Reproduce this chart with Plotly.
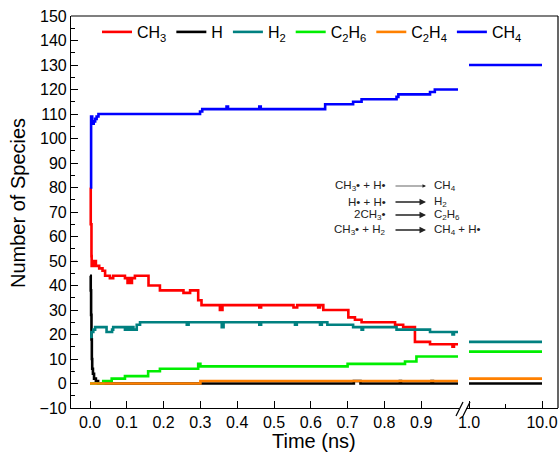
import plotly.graph_objects as go

# ---------------- data (first segment: 0 - 1.0 ns) ----------------
t_ch3 = [0.000, 0.002, 0.004, 0.0045, 0.009, 0.016, 0.025, 0.034, 0.041, 0.054,
         0.063, 0.095, 0.102, 0.106, 0.110, 0.114, 0.122, 0.159, 0.190, 0.254,
         0.272, 0.294, 0.303, 0.353, 0.360, 0.460, 0.465, 0.553, 0.563, 0.620,
         0.625, 0.634, 0.702, 0.720, 0.738, 0.829, 0.851, 0.883, 0.924, 0.985,
         0.989, 1.000]
v_ch3 = [80, 65, 52, 48, 50, 48, 47, 46, 44, 43,
         44, 43, 41, 43, 41, 43, 44, 40, 38, 37,
         38, 34, 32, 30, 32, 31, 32, 31, 32, 31,
         32, 30, 27, 26, 25, 24, 23, 17, 16, 15,
         16, 16]

t_h = [0.000, 0.002, 0.003, 0.004, 0.005, 0.006, 0.008, 0.011, 0.016, 0.022,
       0.717, 0.735, 0.842, 0.845, 0.928, 0.932, 1.000]
v_h = [44, 38, 28, 18, 10, 6, 4, 2, 1, 0,
       1, 0, 1, 0, 1, 0, 0]

t_h2 = [0.000, 0.004, 0.009, 0.014, 0.045, 0.060, 0.063, 0.095, 0.100, 0.106,
        0.112, 0.118, 0.127, 0.136, 0.263, 0.268, 0.358, 0.363, 0.460, 0.465,
        0.557, 0.562, 0.625, 0.630, 0.645, 0.715, 0.738, 0.742, 0.833, 0.924,
        0.985, 0.989, 1.000]
v_h2 = [19, 21, 22, 23, 21, 22, 23, 22, 23, 22,
        23, 22, 24, 25, 24, 25, 23, 25, 24, 25,
        24, 25, 24, 25, 24, 23, 22, 23, 22, 21,
        20, 21, 21]

t_c2h6 = [0.000, 0.036, 0.059, 0.095, 0.158, 0.190, 0.294, 0.300, 0.700, 0.856, 0.887, 1.000]
v_c2h6 = [0, 1, 2, 3, 5, 6, 8, 7, 8, 9, 11, 11]

t_c2h4 = [0.000, 0.300, 1.000]
v_c2h4 = [0, 1, 1]

t_ch4 = [0.000, 0.003, 0.006, 0.010, 0.014, 0.018, 0.023, 0.299, 0.305, 0.371,
         0.375, 0.460, 0.464, 0.639, 0.715, 0.738, 0.833, 0.838, 0.924, 0.937,
         1.000]
v_ch4 = [80, 109, 106, 107, 108, 109, 110, 111, 112, 113,
         112, 113, 112, 114, 115, 116, 117, 118, 119, 120,
         120]

# ---------------- data (second segment: 1.0 - 10.0 ns) ----------------
# CH3 is not visible in the second segment of the reference
t_late = [1.0, 10.0]
late_values = {"CH3": None, "H": 0, "H2": 17, "C2H6": 13, "C2H4": 2, "CH4": 130}

species = ["CH3", "H", "H2", "C2H6", "C2H4", "CH4"]
labels = ["CH<sub>3</sub>", "H", "H<sub>2</sub>", "C<sub>2</sub>H<sub>6</sub>",
          "C<sub>2</sub>H<sub>4</sub>", "CH<sub>4</sub>"]
colors = ["#FF0000", "#000000", "#008080", "#00EE00", "#FF8000", "#0000FF"]
early = {"CH3": (t_ch3, v_ch3), "H": (t_h, v_h), "H2": (t_h2, v_h2),
         "C2H6": (t_c2h6, v_c2h6), "C2H4": (t_c2h4, v_c2h4), "CH4": (t_ch4, v_ch4)}

x_ticks1 = [0.0, 0.1, 0.2, 0.3, 0.4, 0.5, 0.6, 0.7, 0.8, 0.9]
x_ticks2 = [1.0, 10.0]

FONT = "Liberation Sans, Arial, sans-serif"
LW = 2.6

fig = go.Figure()
for sp, lab, col in zip(species, labels, colors):
    t, v = early[sp]
    fig.add_trace(go.Scatter(x=t, y=v, mode="lines", name=lab,
                             line=dict(color=col, width=LW, shape="hv"),
                             xaxis="x", yaxis="y", legendgroup=sp))
for sp, lab, col in zip(species, labels, colors):
    if late_values[sp] is None:
        continue
    fig.add_trace(go.Scatter(x=t_late, y=[late_values[sp]] * 2, mode="lines",
                             name=lab, showlegend=False, legendgroup=sp,
                             line=dict(color=col, width=LW),
                             xaxis="x2", yaxis="y"))

# geometry (pixels)
W, H = 560, 456
L, R, T, B = 71, 2, 16, 48
PW = W - L - R
PH = H - T - B


def px(xp):
    return (xp - L) / PW


def py(yp):
    return (H - B - yp) / PH


x1_end = 459
x2_start = 466
s1 = 368.0  # px per ns in first segment
s2 = (542 - 469) / 9.0

fig.update_layout(
    width=W, height=H,
    margin=dict(l=L, r=R, t=T, b=B),
    paper_bgcolor="white", plot_bgcolor="white",
    font=dict(family=FONT, size=16, color="black"),
    showlegend=True,
    legend=dict(orientation="h", x=px(312), xanchor="center", y=py(32), yanchor="middle",
                font=dict(size=16), bgcolor="rgba(0,0,0,0)", itemwidth=30,
                tracegroupgap=0),
    xaxis=dict(domain=[0, px(x1_end)],
               range=[(L - 90) / s1, (x1_end - 90) / s1],
               tickmode="array", tickvals=x_ticks1,
               ticktext=["%.1f" % v for v in x_ticks1],
               ticks="inside", ticklen=7, tickwidth=1.2, tickcolor="black",
               showline=True, linecolor="black", linewidth=1.2,
               showgrid=False, zeroline=False, anchor="y",
               tickfont=dict(size=16)),
    xaxis2=dict(domain=[px(x2_start), 1],
                range=[1 - (469 - x2_start) / s2, 10 + (W - R - 542) / s2],
                tickmode="array", tickvals=x_ticks2,
                ticktext=["%.1f" % v for v in x_ticks2],
                ticks="inside", ticklen=7, tickwidth=1.2, tickcolor="black",
                minor=dict(tickmode="array", tickvals=[5.5], ticks="inside",
                           ticklen=4, tickcolor="black"),
                showline=True, linecolor="black", linewidth=1.2,
                showgrid=False, zeroline=False, anchor="y",
                tickfont=dict(size=16)),
    yaxis=dict(range=[-10, 150], tick0=0, dtick=10,
               ticks="inside", ticklen=7, tickwidth=1.2, tickcolor="black",
               minor=dict(dtick=5, ticks="inside", ticklen=4, tickcolor="black"),
               showline=True, linecolor="black", linewidth=1.2,
               showgrid=False, zeroline=False, anchor="x",
               tickfont=dict(size=16)),
)

shapes = [
    dict(type="line", xref="paper", yref="paper", x0=0, x1=1, y0=1, y1=1,
         line=dict(color="black", width=1.2)),
    dict(type="line", xref="paper", yref="paper", x0=1, x1=1, y0=0, y1=1,
         line=dict(color="black", width=1.2)),
    dict(type="line", xref="paper", yref="paper", x0=px(456), x1=px(463),
         y0=py(416), y1=py(402), line=dict(color="black", width=1.2)),
    dict(type="line", xref="paper", yref="paper", x0=px(463), x1=px(470),
         y0=py(416), y1=py(402), line=dict(color="black", width=1.2)),
]
fig.update_layout(shapes=shapes)

annotations = [
    dict(text="Time (ns)", xref="paper", yref="paper", x=px(314), y=py(441),
         xanchor="center", yanchor="middle", showarrow=False, font=dict(size=20)),
    dict(text="Number of Species", xref="paper", yref="paper", x=px(18), y=py(203),
         xanchor="center", yanchor="middle", textangle=-90, showarrow=False,
         font=dict(size=20)),
]

reactions_left = ["CH<sub>3</sub>• + H•", "H• + H•", "2CH<sub>3</sub>•",
                  "CH<sub>3</sub>• + H<sub>2</sub>"]
reactions_right = ["CH<sub>4</sub>", "H<sub>2</sub>", "C<sub>2</sub>H<sub>6</sub>",
                   "CH<sub>4</sub> + H•"]
row_y = [186, 202, 215, 230]
arrow_w = [0.7, 1.3, 1.3, 1.3]
for lt, rt, yy, aw in zip(reactions_left, reactions_right, row_y, arrow_w):
    annotations.append(dict(text=lt, xref="paper", yref="paper", x=px(388), y=py(yy),
                            xanchor="right", yanchor="middle", showarrow=False,
                            font=dict(size=11.5, color="#222")))
    annotations.append(dict(text=rt, xref="paper", yref="paper", x=px(432), y=py(yy),
                            xanchor="left", yanchor="middle", showarrow=False,
                            font=dict(size=11.5, color="#222")))
    annotations.append(dict(text="", xref="paper", yref="paper", x=px(426), y=py(yy),
                            ax=-32, ay=0, showarrow=True, arrowhead=2, arrowsize=1.0,
                            arrowwidth=aw, arrowcolor="#222", standoff=0))
fig.update_layout(annotations=annotations)

fig.write_html("out.html")
